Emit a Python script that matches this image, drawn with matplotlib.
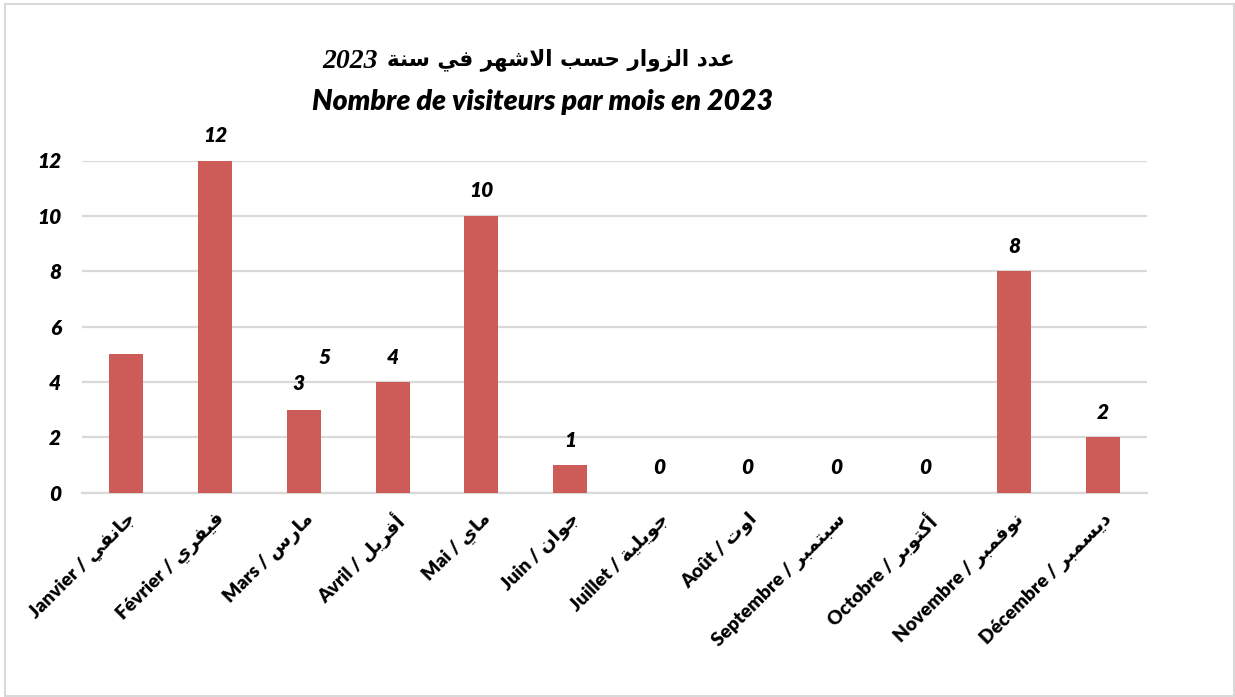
import numpy as np
import matplotlib
matplotlib.use('Agg')
import matplotlib.pyplot as plt
from matplotlib.patches import Rectangle

# ---------------- data ----------------
months_fr = ['Janvier', 'Février', 'Mars', 'Avril', 'Mai', 'Juin', 'Juillet',
             'Août', 'Septembre', 'Octobre', 'Novembre', 'Décembre']
months_ar = ['جانفي', 'فيفري', 'مارس', 'أفريل', 'ماي', 'جوان', 'جويلية',
             'اوت', 'سبتمبر', 'أكتوبر', 'نوفمبر', 'ديسمبر']
visitors = [5, 12, 3, 4, 10, 1, 0, 0, 0, 0, 8, 2]
yticks = [0, 2, 4, 6, 8, 10, 12]
title_ar = 'عدد الزوار حسب الاشهر في سنة'
title_year = '2023'
title_fr = 'Nombre de visiteurs par mois en 2023'

# ---------------- minimal Arabic shaping (presentation forms, visual order) ----------------
_TABLE = {
    '\u0621': (0xFE80, 1), '\u0622': (0xFE81, 2), '\u0623': (0xFE83, 2),
    '\u0624': (0xFE85, 2), '\u0625': (0xFE87, 2), '\u0626': (0xFE89, 4),
    '\u0627': (0xFE8D, 2), '\u0628': (0xFE8F, 4), '\u0629': (0xFE93, 2),
    '\u062A': (0xFE95, 4), '\u062B': (0xFE99, 4), '\u062C': (0xFE9D, 4),
    '\u062D': (0xFEA1, 4), '\u062E': (0xFEA5, 4), '\u062F': (0xFEA9, 2),
    '\u0630': (0xFEAB, 2), '\u0631': (0xFEAD, 2), '\u0632': (0xFEAF, 2),
    '\u0633': (0xFEB1, 4), '\u0634': (0xFEB5, 4), '\u0635': (0xFEB9, 4),
    '\u0636': (0xFEBD, 4), '\u0637': (0xFEC1, 4), '\u0638': (0xFEC5, 4),
    '\u0639': (0xFEC9, 4), '\u063A': (0xFECD, 4), '\u0641': (0xFED1, 4),
    '\u0642': (0xFED5, 4), '\u0643': (0xFED9, 4), '\u0644': (0xFEDD, 4),
    '\u0645': (0xFEE1, 4), '\u0646': (0xFEE5, 4), '\u0647': (0xFEE9, 4),
    '\u0648': (0xFEED, 2), '\u0649': (0xFEEF, 2), '\u064A': (0xFEF1, 4),
}
_LAM_ALEF = {'\u0622': 0xFEF5, '\u0623': 0xFEF7, '\u0625': 0xFEF9, '\u0627': 0xFEFB}


def shape_ar(text):
    units = []
    i = 0
    while i < len(text):
        c = text[i]
        if c == '\u0644' and i + 1 < len(text) and text[i + 1] in _LAM_ALEF:
            units.append(('LA', _LAM_ALEF[text[i + 1]]))
            i += 2
        else:
            units.append(('C', c))
            i += 1

    def joins_next(u):
        return u[0] == 'C' and u[1] in _TABLE and _TABLE[u[1]][1] == 4

    def is_joiner(u):
        return u[0] == 'LA' or (u[1] in _TABLE and _TABLE[u[1]][1] > 1)

    out = []
    for k, u in enumerate(units):
        prev = units[k - 1] if k > 0 else None
        nxt = units[k + 1] if k + 1 < len(units) else None
        pc = prev is not None and joins_next(prev)
        if u[0] == 'LA':
            out.append(chr(u[1] + (1 if pc else 0)))
            continue
        c = u[1]
        if c not in _TABLE:
            out.append(c)
            continue
        base, n = _TABLE[c]
        nc = n == 4 and nxt is not None and is_joiner(nxt)
        if n == 1:
            form = base
        elif pc and nc:
            form = base + 3
        elif pc:
            form = base + 1
        elif nc:
            form = base + 2
        else:
            form = base
        out.append(chr(form))
    return ''.join(reversed(out))


# ---------------- figure ----------------
W, H = 1235, 697
fig = plt.figure(figsize=(W / 100, H / 100), dpi=100)
fig.patch.set_facecolor('white')

x0, x1, y0, y1 = 82, 1147, 492.8, 160.5
ax = fig.add_axes([x0 / W, 1 - y0 / H, (x1 - x0) / W, (y0 - y1) / H])

x = np.arange(len(visitors))
ax.bar(x, visitors, width=0.385, color='#CD5C59', zorder=3)
ax.set_xlim(-0.5, len(visitors) - 0.5)
ax.set_ylim(0, 12)
ax.set_yticks(yticks)
ax.yaxis.grid(True, color='#D9D9D9', lw=1.6, zorder=0)
ax.set_axisbelow(True)
for s in ['top', 'right', 'left']:
    ax.spines[s].set_visible(False)
ax.spines['bottom'].set_color('#D9D9D9')
ax.spines['bottom'].set_linewidth(1.6)
ax.tick_params(length=0)

latin = 'Lato'
HEAVY = 'heavy'
ax.set_yticklabels([str(v) for v in yticks], family=latin, weight=HEAVY,
                   style='italic', size=15, color='black')
ax.tick_params(axis='y', pad=15)

xlabels = [f'{fr} / {shape_ar(ar)}' for fr, ar in zip(months_fr, months_ar)]
ax.set_xticks(x)
ax.set_xticklabels(xlabels, rotation=45, ha='right', rotation_mode='anchor',
                   family=[latin, 'DejaVu Sans'], weight=HEAVY, size=13.8)
ax.tick_params(axis='x', pad=12)

# data labels (Janvier and Mars labels were displaced in the original)
offsets = {0: (143, -2), 2: (-4, 19)}
for i, v in enumerate(visitors):
    dx, dy = offsets.get(i, (0, 18))
    ax.annotate(str(v), xy=(i, v), xytext=(dx, dy), textcoords='offset points',
                ha='center', va='center', family=latin, weight=HEAVY,
                style='italic', size=15, annotation_clip=False)

# titles
t_ar = fig.text(735 / W, 1 - 60 / H, shape_ar(title_ar), ha='right', va='center',
                family='DejaVu Sans', weight='bold', size=15.5)
ax.annotate(title_year, xy=(0, 0.45), xycoords=t_ar, xytext=(-7, 0),
            textcoords='offset points', ha='right', va='center',
            family='Liberation Serif', weight='bold', style='italic', size=20,
            annotation_clip=False)
fig.text(542 / W, 1 - 102 / H, title_fr, ha='center', va='center',
         family=latin, weight=HEAVY, style='italic', size=20.5)

# outer border
fig.patches.append(Rectangle((5 / W, 1 - 696 / H), (1234 - 5) / W, (696 - 4) / H,
                             transform=fig.transFigure, fill=False,
                             ec='#D9D9D9', lw=1.5))

fig.savefig('out.png', dpi=100)
